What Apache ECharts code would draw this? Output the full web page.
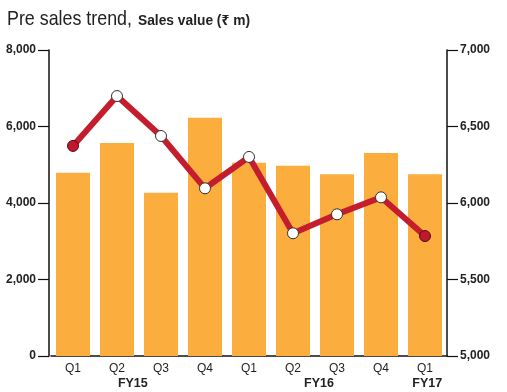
<!DOCTYPE html>
<html><head><meta charset="utf-8">
<script src="https://cdn.jsdelivr.net/npm/echarts@6/dist/echarts.min.js"></script>
<style>html,body{margin:0;padding:0;background:#fff}#c{width:507px;height:392px}</style>
</head><body><div id="c"></div>
<script>
const categories = ['Q1','Q2','Q3','Q4','Q1','Q2','Q3','Q4','Q1'];
const fiscalYears = ['FY15','FY16','FY17'];
const preSales = [4790, 5570, 4270, 6230, 5055, 4975, 4750, 5305, 4750];
const salesValue = [6373, 6699, 6438, 6096, 6301, 5802, 5926, 6037, 5784];
const leftTicks = [0, 2000, 4000, 6000, 8000];
const rightTicks = [5000, 5500, 6000, 6500, 7000];

const FONT = '"Liberation Sans","Noto Sans",sans-serif';
const fmt = v => v === 0 ? '0' : v.toLocaleString('en-US');
const chart = echarts.init(document.getElementById('c'));
const lastIdx = salesValue.length - 1;
const axisLabelStyle = { color: '#222', fontFamily: FONT, fontSize: 12, fontWeight: 'bold', margin: 13, formatter: fmt };
chart.setOption({
  animation: false,
  backgroundColor: '#fff',
  grid: { left: 51, right: 60, top: 50, bottom: 36 },
  xAxis: {
    type: 'category', data: categories, boundaryGap: true,
    axisLine: { lineStyle: { color: '#111', width: 1.5 } },
    axisTick: { show: false },
    axisLabel: { color: '#222', fontFamily: FONT, fontSize: 12, margin: 7 }
  },
  yAxis: [
    { type: 'value', min: leftTicks[0], max: leftTicks[leftTicks.length-1], interval: 2000, offset: 2,
      axisLine: { show: true, lineStyle: { color: '#111', width: 1.5 } },
      axisTick: { show: true, length: 11, lineStyle: { color: '#111', width: 1.2 } },
      splitLine: { show: false }, axisLabel: axisLabelStyle },
    { type: 'value', min: rightTicks[0], max: rightTicks[rightTicks.length-1], interval: 500, position: 'right',
      axisLine: { show: true, lineStyle: { color: '#111', width: 1.5 } },
      axisTick: { show: true, length: 11, lineStyle: { color: '#111', width: 1.2 } },
      splitLine: { show: false }, axisLabel: axisLabelStyle }
  ],
  series: [
    { type: 'bar', data: preSales, yAxisIndex: 0, barWidth: 34, itemStyle: { color: '#FBAD3D' } },
    { type: 'line', data: salesValue.map((v, i) => ({
        value: v,
        itemStyle: (i === 0 || i === lastIdx) ? { color: '#C0192D', borderColor: '#5a0a12', borderWidth: 1 } : { color: '#fff', borderColor: '#333', borderWidth: 1 }
      })),
      yAxisIndex: 1, symbol: 'circle', symbolSize: 11, showAllSymbol: true,
      lineStyle: { color: '#C41E2E', width: 6 }, z: 5 }
  ]
});
// condensed title: measure then squeeze horizontally to the reference width
const ctx = document.createElement('canvas').getContext('2d');
function sx(font, text, target) { ctx.font = font; return target / ctx.measureText(text).width; }
const t1 = 'Pre sales trend,', t2 = 'Sales value (₹ m)';
const f1 = '21px ' + FONT, f2 = 'bold 15px ' + FONT;
// fiscal-year group labels under the quarter labels (fractional category positions)
const fyPos = [1.36, 5.59, 8.05];
const px = idx => {
  const a = chart.convertToPixel({ xAxisIndex: 0 }, 0), b = chart.convertToPixel({ xAxisIndex: 0 }, 1);
  return a + idx * (b - a);
};
const graphics = [
  { type: 'text', x: 7, y: 19, scaleX: sx(f1, t1, 125), style: { text: t1, fill: '#222', font: f1, textVerticalAlign: 'middle' } },
  { type: 'text', x: 138, y: 21, scaleX: sx(f2, t2, 112), style: { text: t2, fill: '#222', font: f2, textVerticalAlign: 'middle' } }
].concat(fyPos.map((idx, k) => ({ type: 'text', x: px(idx), y: 384,
  style: { text: fiscalYears[k], fill: '#222', font: 'bold 12.5px ' + FONT, textAlign: 'center', textVerticalAlign: 'middle' } })));
chart.setOption({ graphic: graphics });
</script></body></html>
